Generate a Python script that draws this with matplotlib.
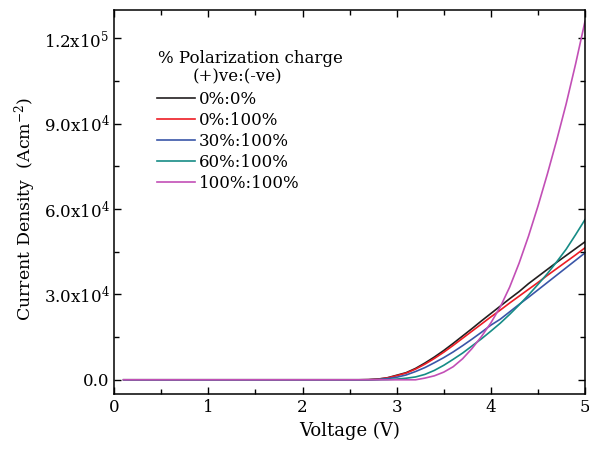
import matplotlib
matplotlib.use("Agg")
import matplotlib.pyplot as plt
from matplotlib.ticker import MultipleLocator, FuncFormatter

plt.rcParams["font.family"] = ["DejaVu Serif"]
plt.rcParams["mathtext.fontset"] = "dejavuserif"

# voltage grid (V)
voltage = [0.1, 0.5, 1.0, 1.5, 2.0, 2.5, 2.6, 2.7, 2.8, 2.9, 3.0, 3.1, 3.2, 3.3,
           3.4, 3.5, 3.6, 3.7, 3.8, 3.9, 4.0, 4.1, 4.2, 4.3, 4.4, 4.5, 4.6,
           4.7, 4.8, 4.9, 5.0]

# current density (A/cm^2) for each polarization charge ratio
j_0_0 = [0, 0, 0, 0, 0, 0, 0, 50, 250, 700, 1600, 2500, 4000, 5900,
         8000, 10300, 12800, 15400, 18000, 20700, 23300, 25900, 28500, 31000,
         33800, 36300, 38800, 41300, 43700, 46100, 48500]
j_0_100 = [0, 0, 0, 0, 0, 0, 0, 40, 220, 650, 1450, 2350, 3750, 5500,
           7500, 9700, 12100, 14600, 17100, 19600, 22100, 24500, 27000, 29400,
           31800, 34200, 36700, 39100, 41500, 43900, 46400]
j_30_100 = [0, 0, 0, 0, 0, 0, 0, 20, 120, 420, 900, 1700, 2900, 4300,
            6000, 7800, 9800, 12000, 14300, 16700, 19200, 21300, 23900, 26500,
            29000, 31600, 34200, 36800, 39400, 42000, 44600]
j_60_100 = [0, 0, 0, 0, 0, 0, 0, 0, 20, 80, 250, 550, 1000, 1900,
            3300, 5100, 7200, 9400, 11900, 14400, 17100, 19900, 23000, 26300,
            29800, 33500, 37300, 41500, 45900, 51000, 56300]
j_100_100 = [0, 0, 0, 0, 0, 0, 0, 0, 0, 0, 0, 0, 0, 600,
             1400, 2700, 4600, 7400, 11000, 15200, 20000, 25600, 32600, 41000,
             50500, 61000, 72300, 84300, 97000, 111000, 126000]

labels = ["0%:0%", "0%:100%", "30%:100%", "60%:100%", "100%:100%"]
colors = ["#231f20", "#ed1c24", "#3a56a8", "#168c86", "#c24fb6"]
series = [j_0_0, j_0_100, j_30_100, j_60_100, j_100_100]

fig = plt.figure(figsize=(5.89, 4.5), dpi=100)
ax = fig.add_axes([0.194, 0.1244, 0.7992, 0.8534])

for ys, lab, col in zip(series, labels, colors):
    ax.plot(voltage, ys, color=col, lw=1.2, label=lab)

ax.set_xlim(0, 5)
ax.set_ylim(-5000, 130000)

ax.xaxis.set_major_locator(MultipleLocator(1))
ax.xaxis.set_minor_locator(MultipleLocator(0.5))
ax.yaxis.set_major_locator(MultipleLocator(30000))
ax.yaxis.set_minor_locator(MultipleLocator(15000))


def sci_fmt(v, pos):
    if v == 0:
        return "0.0"
    exp = 0
    m = v
    while abs(m) >= 10:
        m /= 10
        exp += 1
    return r"%.1fx10$^{%d}$" % (m, exp)


ax.yaxis.set_major_formatter(FuncFormatter(sci_fmt))
ax.xaxis.set_major_formatter(FuncFormatter(lambda v, p: "%d" % v))

ax.tick_params(which="both", direction="in", top=True, right=True,
               labelsize=12, width=1.0)
ax.tick_params(which="major", length=5)
ax.tick_params(which="minor", length=3.5)
for s in ax.spines.values():
    s.set_linewidth(1.1)

ax.set_xlabel("Voltage (V)", fontsize=13, labelpad=4)
ax.set_ylabel(r"Current Density  (Acm$^{-2}$)", fontsize=12.5)
ax.yaxis.set_label_coords(-0.163, 0.482)

ax.text(0.093, 0.874, "% Polarization charge", transform=ax.transAxes,
        fontsize=12, va="center", ha="left")
ax.text(0.167, 0.825, "(+)ve:(-ve)", transform=ax.transAxes,
        fontsize=12, va="center", ha="left")
ax.legend(loc="upper left", bbox_to_anchor=(0.083, 0.799), frameon=False,
          fontsize=12, handlelength=2.3, handletextpad=0.25,
          labelspacing=0.25, borderpad=0.2, borderaxespad=0)

fig.savefig("out.png", dpi=100)
